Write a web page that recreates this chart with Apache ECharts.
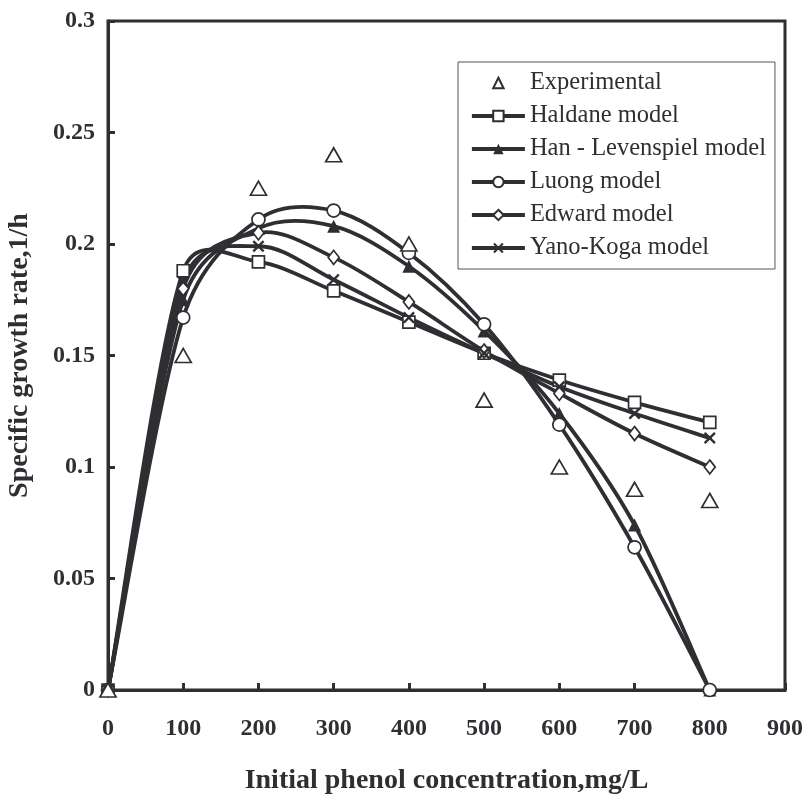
<!DOCTYPE html>
<html>
<head>
<meta charset="utf-8">
<script src="https://cdn.jsdelivr.net/npm/echarts@6/dist/echarts.min.js"></script>
<style>html,body{margin:0;padding:0;background:#fff;}#c{width:811px;height:798px;}</style>
</head>
<body>
<div id="c"></div>
<script>
const concentration = [0, 100, 200, 300, 400, 500, 600, 700, 800];
const experimental = [0, 0.150, 0.225, 0.240, 0.200, 0.130, 0.100, 0.090, 0.085];
const haldane = [0, 0.188, 0.192, 0.179, 0.165, 0.151, 0.139, 0.129, 0.120];
const hanLevenspiel = [0, 0.175, 0.207, 0.208, 0.190, 0.161, 0.124, 0.074, 0];
const luong = [0, 0.167, 0.211, 0.215, 0.196, 0.164, 0.119, 0.064, 0];
const edward = [0, 0.180, 0.205, 0.194, 0.174, 0.152, 0.133, 0.115, 0.100];
const yanoKoga = [0, 0.183, 0.199, 0.184, 0.167, 0.151, 0.136, 0.124, 0.113];
const seriesNames = ['Experimental', 'Haldane model', 'Han - Levenspiel model', 'Luong model', 'Edward model', 'Yano-Koga model'];

const INK = '#2f2f33';
const FONT = '"Times New Roman", "Liberation Serif", serif';
const pair = arr => concentration.map((x, i) => [x, arr[i]]);
const xPath = 'path://M0,1.4L1.4,0L5,3.6L8.6,0L10,1.4L6.4,5L10,8.6L8.6,10L5,6.4L1.4,10L0,8.6L3.6,5Z';

// Smoothed curve through the data, positioned with the chart's own scales.
// Tangent factor 1/6 (Catmull-Rom), damped where adjacent segments differ a lot in length.
function curveSeries(name, arr) {
  const n = arr.length;
  return {
    name: name + ' curve', type: 'custom', data: pair(arr), silent: true, z: 2,
    renderItem: function (params, api) {
      const i = params.dataIndex;
      if (i >= n - 1) return null;
      const P = j => { const k = Math.max(0, Math.min(n - 1, j)); return api.coord([concentration[k], arr[k]]); };
      const dist = (a, b) => Math.hypot(a[0] - b[0], a[1] - b[1]);
      const p0 = P(i - 1), p1 = P(i), p2 = P(i + 1), p3 = P(i + 2);
      const dA0 = dist(p0, p1), dA1 = dist(p1, p2), dB1 = dist(p2, p3);
      const fA = i === 0 ? 1 / 6 : Math.sqrt(Math.min(1, 2 * dA1 / (dA0 + dA1))) / 6;
      const fB = i + 2 > n - 1 ? 1 / 6 : Math.sqrt(Math.min(1, 2 * dA1 / (dA1 + dB1))) / 6;
      return {
        type: 'bezierCurve',
        shape: {
          x1: p1[0], y1: p1[1], x2: p2[0], y2: p2[1],
          cpx1: p1[0] + (p2[0] - p0[0]) * fA, cpy1: p1[1] + (p2[1] - p0[1]) * fA,
          cpx2: p2[0] - (p3[0] - p1[0]) * fB, cpy2: p2[1] - (p3[1] - p1[1]) * fB
        },
        style: { stroke: INK, lineWidth: 3.8, fill: null, lineCap: 'round' }
      };
    }
  };
}

function markerSeries(name, arr, symbol, size, filled) {
  return {
    name: name, type: 'line', data: pair(arr),
    symbol: symbol, symbolSize: size, showAllSymbol: true,
    lineStyle: { color: INK, width: 4, opacity: 0 },
    itemStyle: { color: filled ? INK : '#fff', borderColor: INK, borderWidth: filled ? 0 : 1.7 },
    emphasis: { disabled: true }, z: 4
  };
}

const chart = echarts.init(document.getElementById('c'), null, { renderer: 'canvas' });
chart.setOption({
  animation: false,
  backgroundColor: '#fff',
  grid: { left: 108, top: 21, right: 26, bottom: 108, containLabel: false, outerBoundsMode: 'none', show: true, borderColor: INK, borderWidth: 3, backgroundColor: 'transparent' },
  legend: {
    orient: 'vertical', left: 458, top: 62,
    padding: [8, 9, 8, 12],
    itemWidth: 53, itemHeight: 13, itemGap: 7,
    backgroundColor: '#fff', borderColor: '#555', borderWidth: 1,
    lineStyle: { opacity: 1, width: 3.8, color: INK },
    textStyle: { fontFamily: FONT, fontSize: 24.5, color: INK, lineHeight: 26 },
    data: [
      { name: seriesNames[0], lineStyle: { width: 0, opacity: 0 } },
      seriesNames[1], seriesNames[2], seriesNames[3], seriesNames[4], seriesNames[5]
    ]
  },
  xAxis: {
    type: 'value', min: 0, max: 900, interval: 100,
    name: 'Initial phenol concentration,mg/L', nameLocation: 'middle', nameGap: 77,
    nameTextStyle: { fontFamily: FONT, fontSize: 28, fontWeight: 'bold', color: INK },
    axisLine: { show: true, lineStyle: { color: INK, width: 3 } },
    axisTick: { show: true, inside: true, length: 7, lineStyle: { color: INK, width: 3 } },
    axisLabel: { margin: 27, fontFamily: FONT, fontSize: 24, fontWeight: 'bold', color: INK },
    splitLine: { show: false }
  },
  yAxis: {
    type: 'value', min: 0, max: 0.3, interval: 0.05,
    name: 'Specific growth rate,1/h', nameLocation: 'middle', nameGap: 74,
    nameTextStyle: { fontFamily: FONT, fontSize: 28, fontWeight: 'bold', color: INK },
    axisLine: { show: true, lineStyle: { color: INK, width: 3 } },
    axisTick: { show: true, inside: true, length: 7, lineStyle: { color: INK, width: 3 } },
    axisLabel: { margin: 13, fontFamily: FONT, fontSize: 24, fontWeight: 'bold', color: INK },
    splitLine: { show: false }
  },
  series: [
    {
      name: seriesNames[0], type: 'line', data: pair(experimental),
      symbol: 'triangle', symbolSize: [16, 14],
      lineStyle: { width: 0, opacity: 0 },
      itemStyle: { color: '#fff', borderColor: INK, borderWidth: 1.7 },
      emphasis: { disabled: true }, z: 5
    },
    curveSeries(seriesNames[1], haldane),
    curveSeries(seriesNames[2], hanLevenspiel),
    curveSeries(seriesNames[3], luong),
    curveSeries(seriesNames[4], edward),
    curveSeries(seriesNames[5], yanoKoga),
    markerSeries(seriesNames[1], haldane, 'rect', 12, false),
    markerSeries(seriesNames[2], hanLevenspiel, 'triangle', 13, true),
    markerSeries(seriesNames[3], luong, 'circle', 13, false),
    markerSeries(seriesNames[4], edward, 'diamond', [11, 14], false),
    markerSeries(seriesNames[5], yanoKoga, xPath, 12, true)
  ]
});
</script>
</body>
</html>
